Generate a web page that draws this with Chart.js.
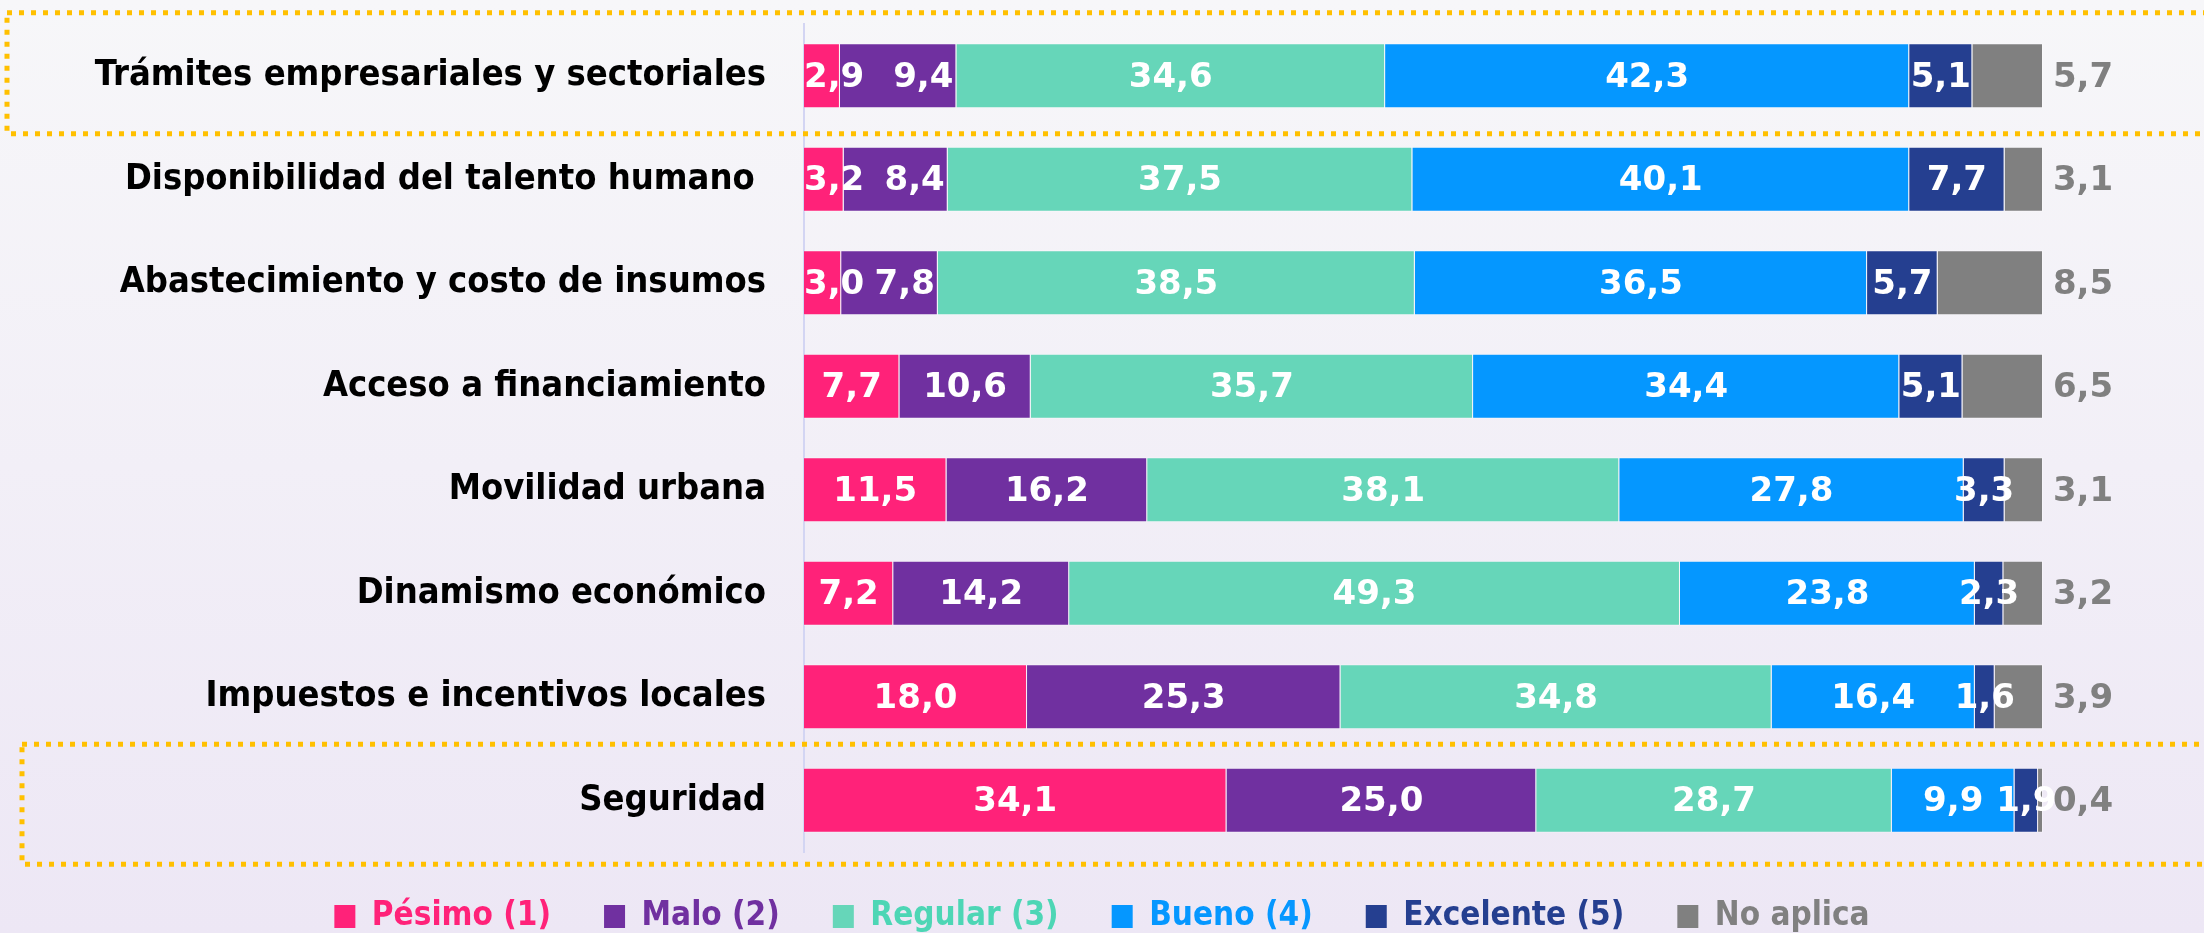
<!DOCTYPE html>
<html>
<head>
<meta charset="utf-8">
<script src="https://cdn.jsdelivr.net/npm/chart.js@4"></script>
<style>
html, body { margin: 0; padding: 0; }
body { width: 2204px; height: 933px; overflow: hidden; background: linear-gradient(#f7f7f9, #ede7f5); }
</style>
</head>
<body>
<canvas id="myChart" width="2204" height="933"></canvas>
<script>
const categories = [
  'Trámites empresariales y sectoriales',
  'Disponibilidad del talento humano ',
  'Abastecimiento y costo de insumos',
  'Acceso a financiamiento',
  'Movilidad urbana',
  'Dinamismo económico',
  'Impuestos e incentivos locales',
  'Seguridad'
];
const seriesNames = ['Pésimo (1)', 'Malo (2)', 'Regular (3)', 'Bueno (4)', 'Excelente (5)', 'No aplica'];
const pesimo    = [2.9, 3.2, 3.0, 7.7, 11.5, 7.2, 18.0, 34.1];
const malo      = [9.4, 8.4, 7.8, 10.6, 16.2, 14.2, 25.3, 25.0];
const regular   = [34.6, 37.5, 38.5, 35.7, 38.1, 49.3, 34.8, 28.7];
const bueno     = [42.3, 40.1, 36.5, 34.4, 27.8, 23.8, 16.4, 9.9];
const excelente = [5.1, 7.7, 5.7, 5.1, 3.3, 2.3, 1.6, 1.9];
const noAplica  = [5.7, 3.1, 8.5, 6.5, 3.1, 3.2, 3.9, 0.4];
const highlighted = [0, 7];

const barColors  = ['#ff2279', '#7030a0', '#66d6b9', '#0597ff', '#253f90', '#808080'];
const textColors = ['#ff2279', '#7030a0', '#4dd6b5', '#0597ff', '#253f90', '#808080'];
const FONT = 'DejaVu Sans';
const FONT_COND = '"DejaVu Sans Condensed", "DejaVu Sans"';

function fmt(v){
  return v.toFixed(1).replace('.', ',');
}

// white numbers inside the segments, grey number after the bar for "No aplica"
const valueLabels = {
  id: 'valueLabels',
  afterDatasetsDraw(chart){
    const ctx = chart.ctx;
    ctx.save();
    ctx.font = 'bold 34px "' + FONT + '"';
    ctx.textBaseline = 'middle';
    ctx.textAlign = 'left';
    const last = chart.data.datasets.length - 1;
    const pushed = [];
    chart.data.datasets.forEach(function(ds, di){
      chart.getDatasetMeta(di).data.forEach(function(bar, i){
        const txt = fmt(ds.data[i]);
        const w = ctx.measureText(txt).width;
        if(di === last){
          ctx.fillStyle = '#808080';
          ctx.fillText(txt, bar.x + 40 - w / 2, bar.y + 2);
          return;
        }
        let left = (bar.base + bar.x) / 2 - w / 2;
        if(di === 0 && left < bar.base){
          left = bar.base;
          pushed[i] = true;
        } else if(di === 1 && pushed[i]){
          left = bar.x - w - 3;
        }
        ctx.fillStyle = '#ffffff';
        ctx.fillText(txt, left, bar.y + 2);
      });
    });
    ctx.restore();
  }
};

// yellow dotted boxes round the highlighted rows
const boxStyles = [{left: 7, up: 63, down: 58}, {left: 22, up: 56, down: 64}];
const highlightBoxes = {
  id: 'highlightBoxes',
  afterLayout(chart){
    // lift the legend a little closer to the bars
    chart.legend.top -= 5;
    chart.legend.bottom -= 5;
  },
  afterDraw(chart){
    const ctx = chart.ctx;
    const y = chart.scales.y;
    ctx.save();
    ctx.strokeStyle = '#ffc000';
    ctx.lineWidth = 5;
    ctx.setLineDash([5, 7]);
    highlighted.forEach(function(idx, k){
      const s = boxStyles[k];
      const cy = y.getPixelForValue(idx);
      ctx.strokeRect(s.left, cy - s.up, chart.width + 20, s.up + s.down);
    });
    ctx.restore();
  }
};

const series = [pesimo, malo, regular, bueno, excelente, noAplica];

new Chart('myChart', {
  type: 'bar',
  data: {
    labels: categories,
    datasets: series.map(function(d, i){
      return {
        label: seriesNames[i],
        data: d,
        backgroundColor: barColors[i],
        borderColor: 'rgba(255,255,255,0.35)',
        borderWidth: 1,
        barPercentage: 0.63,
        categoryPercentage: 1.0
      };
    })
  },
  options: {
    indexAxis: 'y',
    responsive: false,
    animation: false,
    devicePixelRatio: 1,
    layout: { padding: { top: 24, right: 0, bottom: -15, left: 0 } },
    scales: {
      x: { stacked: true, min: 0, max: 100, display: false },
      y: {
        stacked: true,
        grid: { display: false, drawTicks: false },
        border: { display: true, color: '#d3d5f3', width: 2 },
        ticks: {
          color: '#000000',
          padding: 38,
          font: { family: FONT_COND, weight: 'bold', size: 36 }
        },
        afterFit(scale){
          scale.width = 804;
          scale.paddingTop = 0;
          scale.paddingBottom = 0;
        }
      },
      yRight: {
        type: 'category',
        position: 'right',
        labels: categories,
        grid: { display: false, drawTicks: false },
        border: { display: false },
        ticks: { display: false },
        afterFit(scale){
          scale.width = 161;
          scale.paddingTop = 0;
          scale.paddingBottom = 0;
        }
      }
    },
    plugins: {
      tooltip: { enabled: false },
      legend: {
        position: 'bottom',
        labels: {
          boxWidth: 21,
          boxHeight: 23,
          padding: 53,
          font: { family: FONT_COND, weight: 'bold', size: 33 },
          generateLabels(){
            return seriesNames.map(function(n, i){
              return { text: n, fillStyle: barColors[i], strokeStyle: barColors[i], lineWidth: 0,
                       fontColor: textColors[i], datasetIndex: i, hidden: false };
            });
          }
        }
      }
    }
  },
  plugins: [valueLabels, highlightBoxes]
});
</script>
</body>
</html>
